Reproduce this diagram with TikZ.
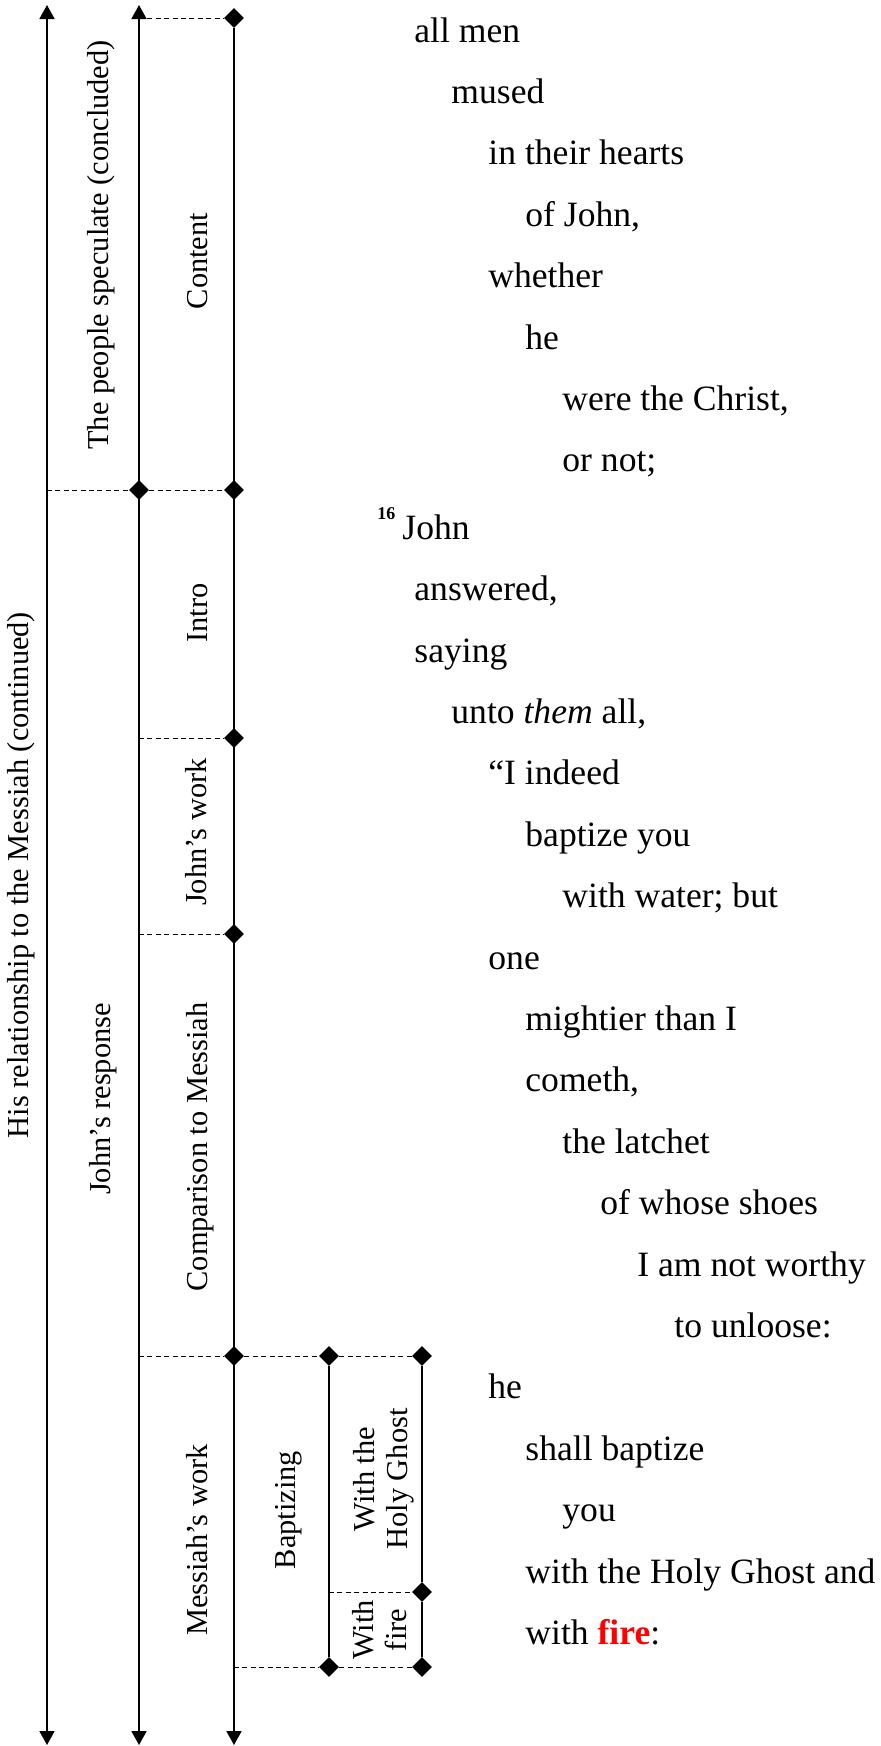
\documentclass[tikz,border=0pt]{standalone}
\usepackage{fontspec}
\setmainfont{Liberation Serif}
\usepackage{tikz}
\usetikzlibrary{arrows.meta,shapes.geometric}

\begin{document}
\begin{tikzpicture}[x=0.5pt, y=-0.5pt,
    linea/.style={black, line width=0.9pt},
    trazo/.style={black, line width=0.5pt, dash pattern=on 2.5pt off 1.7pt},
    rombo/.style={diamond, fill=black, inner sep=0pt, minimum width=10pt, minimum height=10pt},
    txt/.style={anchor=base west, inner sep=0pt, font=\fontsize{17.8pt}{20pt}\selectfont},
    etiq/.style={rotate=90, anchor=base, inner sep=0pt, font=\fontsize{15.2pt}{16.5pt}\selectfont},
    etiqdos/.style={rotate=90, anchor=center, align=center, inner sep=0pt, font=\fontsize{15.2pt}{16.5pt}\selectfont},
    >={Triangle[width=7.5pt, length=7pt]}]
    \useasboundingbox (0,0) rectangle (880,1746);

    % Puntos de las rectas
    \coordinate (a1) at (47,5);
    \coordinate (a2) at (47,1745);
    \coordinate (a3) at (47,490);
    \coordinate (b0) at (139,5);
    \coordinate (b1) at (139,18);
    \coordinate (b3) at (139,738);
    \coordinate (b4) at (139,934);
    \coordinate (b5) at (139,1356);
    \coordinate (bz) at (139,1745);
    \coordinate (c6) at (234,1667);
    \coordinate (cz) at (234,1745);
    \coordinate (d3) at (329,1592);

    % Rombos
    \node[rombo] (b2) at (139,490) {};
    \node[rombo] (c1) at (234,18) {};
    \node[rombo] (c2) at (234,490) {};
    \node[rombo] (c3) at (234,738) {};
    \node[rombo] (c4) at (234,934) {};
    \node[rombo] (c5) at (234,1356) {};
    \node[rombo] (d1) at (329,1356) {};
    \node[rombo] (d2) at (329,1667) {};
    \node[rombo] (e1) at (422,1356) {};
    \node[rombo] (e2) at (422,1592) {};
    \node[rombo] (e3) at (422,1667) {};

    % Rectas
    \draw[linea, <->] (a1) -- (a2);
    \draw[linea, <->] (b0) -- (bz);
    \draw[linea, ->] (c1) -- (cz);
    \draw[linea] (d1) -- (d2);
    \draw[linea] (e1) -- (e2) -- (e3);

    % Discontinuas
    \draw[trazo] (b1) -- (c1);
    \draw[trazo] (a3) -- (b2) -- (c2);
    \draw[trazo] (b3) -- (c3);
    \draw[trazo] (b4) -- (c4);
    \draw[trazo] (b5) -- (c5) -- (d1) -- (e1);
    \draw[trazo] (d3) -- (e2);
    \draw[trazo] (c6) -- (d2) -- (e3);

    % Etiquetas
    \node[etiq] (l1) at (28,875) {His relationship to the Messiah (continued)};
    \node[etiq] (l2) at (108,245) {The people speculate (concluded)};
    \node[etiq] (l3) at (110,1099) {John’s response};
    \node[etiq] (l4) at (207,261) {Content};
    \node[etiq] (l5) at (207,613) {Intro};
    \node[etiq] (l6) at (206,832) {John’s work};
    \node[etiq] (l7) at (207,1147) {Comparison to Messiah};
    \node[etiq] (l8) at (207,1540) {Messiah’s work};
    \node[etiq] (l9) at (295,1510) {Baptizing};
    \node[etiqdos] (l10) at (384,1479) {With the\\Holy Ghost};
    \node[etiqdos] (l11) at (380,1630) {With\\fire};

    % Texto
    \node[txt] (t1) at (414,42) {all men};
    \node[txt] (t2) at (451,103.4) {mused};
    \node[txt] (t3) at (488,164.8) {in their hearts};
    \node[txt] (t4) at (525,226.2) {of John,};
    \node[txt] (t5) at (488,287.6) {whether};
    \node[txt] (t6) at (525,349) {he};
    \node[txt] (t7) at (562,410.4) {were the Christ,};
    \node[txt] (t8) at (562,471.8) {or not;};
    \node[txt, font=\fontsize{9pt}{9pt}\selectfont\bfseries] (v16) at (377,519) {16};
    \node[txt] (t9) at (402,539.2) {John};
    \node[txt] (t10) at (414,600.6) {answered,};
    \node[txt] (t11) at (414,662) {saying};
    \node[txt] (t12) at (451,723.4) {unto \textit{them} all,};
    \node[txt] (t13) at (488,784.8) {“I indeed};
    \node[txt] (t14) at (525,846.2) {baptize you};
    \node[txt] (t15) at (562,907.6) {with water; but};
    \node[txt] (t16) at (488,969) {one};
    \node[txt] (t17) at (525,1030.4) {mightier than I};
    \node[txt] (t18) at (525,1091.8) {cometh,};
    \node[txt] (t19) at (562,1153.2) {the latchet};
    \node[txt] (t20) at (600,1214.6) {of whose shoes};
    \node[txt] (t21) at (637,1276) {I am not worthy};
    \node[txt] (t22) at (674,1337.4) {to unloose:};
    \node[txt] (t23) at (488,1398.8) {he};
    \node[txt] (t24) at (525,1460.2) {shall baptize};
    \node[txt] (t25) at (562,1521.6) {you};
    \node[txt] (t26) at (525,1583) {with the Holy Ghost and};
    \node[txt] (t27) at (525,1644.4) {with \textcolor{red}{\textbf{fire}}:};
\end{tikzpicture}
\end{document}
